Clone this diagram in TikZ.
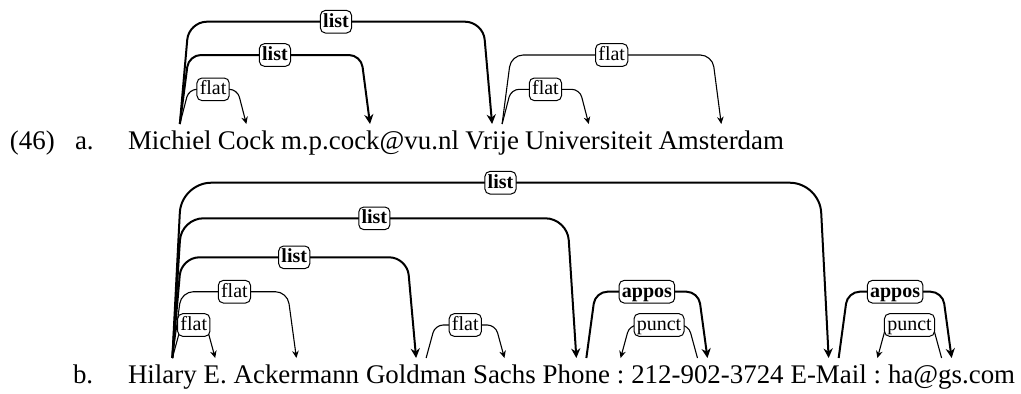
\documentclass[tikz,border=0pt]{standalone}
\usepackage{fontspec}
\setmainfont{Liberation Serif}
\usetikzlibrary{calc,positioning,arrows.meta}
\begin{document}
\begin{tikzpicture}[x=0.5pt,y=-0.5pt,
  word/.style={inner sep=0pt, outer sep=0pt, font=\fontsize{13.45}{16}\selectfont},
  lab/.style={draw, fill=white, line width=0.5pt, rounded corners=2.5pt, inner xsep=1.4pt, inner ysep=1.25pt, text height=7.2pt, text depth=1.6pt, font=\fontsize{10}{11}\selectfont},
  blab/.style={lab, font=\fontsize{10}{11}\selectfont\bfseries},
  depthin/.style={line width=0.55pt, -{Stealth[length=3.6pt,width=3.3pt]}},
  depthick/.style={line width=1pt, -{Stealth[length=4.8pt,width=4.6pt]}},
]
\useasboundingbox (0,0) rectangle (1021,393);
% base and level coordinates
\coordinate (bA) at (0,124);
\coordinate (A1) at (0,89.3);
\coordinate (A2) at (0,55);
\coordinate (A3) at (0,21.7);
\coordinate (bB) at (0,358);
\coordinate (B1) at (0,325);
\coordinate (B2) at (0,291.7);
\coordinate (B3) at (0,257.3);
\coordinate (B4) at (0,218.3);
\coordinate (B5) at (0,182.7);
% line a
\node[word, anchor=base west] (num) at (10,149) {(46)};
\node[word, anchor=base west] (la) at (75,149) {a.};
\node[word, anchor=base west] (a1) at (128,149) {Michiel};
\node[word, base right=3.15pt of a1] (a2) {Cock};
\node[word, base right=3.15pt of a2] (a3) {m.p.cock@vu.nl};
\node[word, base right=3.15pt of a3] (a4) {Vrije};
\node[word, base right=3.15pt of a4] (a5) {Universiteit};
\node[word, base right=3.15pt of a5] (a6) {Amsterdam};
% line b
\node[word, anchor=base west] (lb) at (73,383) {b.};
\node[word, anchor=base west] (b1) at (128,383) {Hilary};
\node[word, base right=3.45pt of b1] (b2) {E.};
\node[word, base right=3.45pt of b2] (b3) {Ackermann};
\node[word, base right=3.45pt of b3] (b4) {Goldman};
\node[word, base right=3.45pt of b4] (b5) {Sachs};
\node[word, base right=3.45pt of b5] (b6) {Phone};
\node[word, base right=3.45pt of b6] (b7) {:};
\node[word, base right=3.45pt of b7] (b8) {212-902-3724};
\node[word, base right=3.45pt of b8] (b9) {E-Mail};
\node[word, base right=3.45pt of b9] (b10) {:};
\node[word, base right=3.45pt of b10] (b11) {ha@gs.com};
% edges line a
\draw[depthick, rounded corners=9pt] ($(a1.center|-bA)+(10,0)$) -- ($(a1.center|-A3)+(19,0)$) -- node[blab] (e1) {list} ($(a4.center|-A3)+(-9,0)$) -- (a4.center|-bA);
\draw[depthick, rounded corners=6pt] ($(a1.center|-bA)+(10,0)$) -- ($(a1.center|-A2)+(19,0)$) -- node[blab] (e2) {list} ($(a3.center|-A2)+(-9,0)$) -- (a3.center|-bA);
\draw[depthin, rounded corners=4pt] ($(a1.center|-bA)+(10,0)$) -- ($(a1.center|-A1)+(19,0)$) -- node[lab] (e3) {flat} ($(a2.center|-A1)+(-9,0)$) -- (a2.center|-bA);
\draw[depthin, rounded corners=6pt] ($(a4.center|-bA)+(10,0)$) -- ($(a4.center|-A2)+(19,0)$) -- node[lab] (e4) {flat} ($(a6.center|-A2)+(-9,0)$) -- (a6.center|-bA);
\draw[depthin, rounded corners=4pt] ($(a4.center|-bA)+(10,0)$) -- ($(a4.center|-A1)+(19,0)$) -- node[lab] (e5) {flat} ($(a5.center|-A1)+(-9,0)$) -- (a5.center|-bA);
% edges line b
\draw[depthick, rounded corners=15pt] ($(b1.center|-bB)+(10,0)$) -- ($(b1.center|-B5)+(19,0)$) -- node[blab] (f1) {list} ($(b9.center|-B5)+(-9,0)$) -- (b9.center|-bB);
\draw[depthick, rounded corners=11pt] ($(b1.center|-bB)+(10,0)$) -- ($(b1.center|-B4)+(19,0)$) -- node[blab] (f2) {list} ($(b6.center|-B4)+(-9,0)$) -- (b6.center|-bB);
\draw[depthick, rounded corners=9pt] ($(b1.center|-bB)+(10,0)$) -- ($(b1.center|-B3)+(19,0)$) -- node[blab] (f3) {list} ($(b4.center|-B3)+(-9,0)$) -- (b4.center|-bB);
\draw[depthin, rounded corners=6pt] ($(b1.center|-bB)+(10,0)$) -- ($(b1.center|-B2)+(19,0)$) -- node[lab] (f4) {flat} ($(b3.center|-B2)+(-9,0)$) -- (b3.center|-bB);
\draw[depthin, rounded corners=4pt] ($(b1.center|-bB)+(10,0)$) -- ($(b1.center|-B1)+(19,0)$) -- node[lab] (f5) {flat} ($(b2.center|-B1)+(-9,0)$) -- (b2.center|-bB);
\draw[depthin, rounded corners=4pt] ($(b4.center|-bB)+(10,0)$) -- ($(b4.center|-B1)+(19,0)$) -- node[lab] (f6) {flat} ($(b5.center|-B1)+(-9,0)$) -- (b5.center|-bB);
\draw[depthick, rounded corners=6pt] ($(b6.center|-bB)+(10,0)$) -- ($(b6.center|-B2)+(19,0)$) -- node[blab] (f7) {appos} ($(b8.center|-B2)+(-9,0)$) -- (b8.center|-bB);
\draw[depthin, rounded corners=4pt] ($(b8.center|-bB)+(-10,0)$) -- ($(b8.center|-B1)+(-19,0)$) -- node[lab] (f8) {punct} ($(b7.center|-B1)+(9,0)$) -- (b7.center|-bB);
\draw[depthick, rounded corners=6pt] ($(b9.center|-bB)+(10,0)$) -- ($(b9.center|-B2)+(19,0)$) -- node[blab] (f9) {appos} ($(b11.center|-B2)+(-9,0)$) -- (b11.center|-bB);
\draw[depthin, rounded corners=4pt] ($(b11.center|-bB)+(-10,0)$) -- ($(b11.center|-B1)+(-19,0)$) -- node[lab] (f10) {punct} ($(b10.center|-B1)+(9,0)$) -- (b10.center|-bB);
\end{tikzpicture}
\end{document}
